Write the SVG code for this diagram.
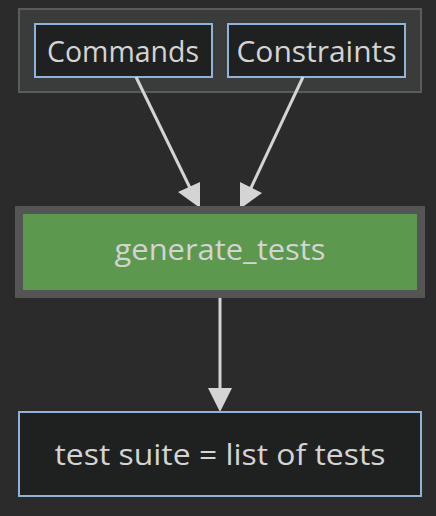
<svg xmlns="http://www.w3.org/2000/svg" width="436" height="516" viewBox="0 0 436 516">
<style>
.bg{fill:#2b2b2b}
.cluster{fill:#3a3c3c;stroke:#5a5c5c;stroke-width:2}
.node{fill:#1f2121;stroke:#8fb3d9;stroke-width:2}
.gen{fill:#5c994f;stroke:#555555;stroke-width:8}
.lbl{font-family:"Open Sans","Noto Sans",sans-serif;font-size:30px;fill:#d4d4d4;text-anchor:middle}
.edge{stroke:#d4d4d4;stroke-width:3;fill:none}
.head{fill:#d4d4d4}
</style>
<rect class="bg" x="0" y="0" width="436" height="516"/>
<g id="cluster">
<rect class="cluster" x="19" y="9" width="402" height="83"/>
</g>
<g id="commands">
<rect class="node" x="35" y="24" width="177" height="53"/>
<text class="lbl" x="123" y="62" textLength="152" lengthAdjust="spacingAndGlyphs">Commands</text>
</g>
<g id="constraints">
<rect class="node" x="228" y="24" width="177" height="53"/>
<text class="lbl" x="316.5" y="62" textLength="160" lengthAdjust="spacingAndGlyphs">Constraints</text>
</g>
<g id="connectors">
<line class="edge" x1="136" y1="77" x2="191" y2="190"/>
<polygon class="head" points="178,192 200,182 200,208"/>
<line class="edge" x1="303" y1="77" x2="250" y2="190"/>
<polygon class="head" points="240,182 262,193 240,209"/>
<line class="edge" x1="220" y1="298" x2="220" y2="392"/>
<polygon class="head" points="208,388 232,388 220,412"/>
</g>
<g id="generate_tests">
<rect class="gen" x="19" y="210" width="402" height="84"/>
<text class="lbl" x="220" y="260" textLength="211" lengthAdjust="spacingAndGlyphs">generate_tests</text>
</g>
<g id="suite">
<rect class="node" x="19" y="412" width="402" height="84"/>
<text class="lbl" x="220" y="465" textLength="331" lengthAdjust="spacingAndGlyphs">test suite = list of tests</text>
</g>
</svg>
